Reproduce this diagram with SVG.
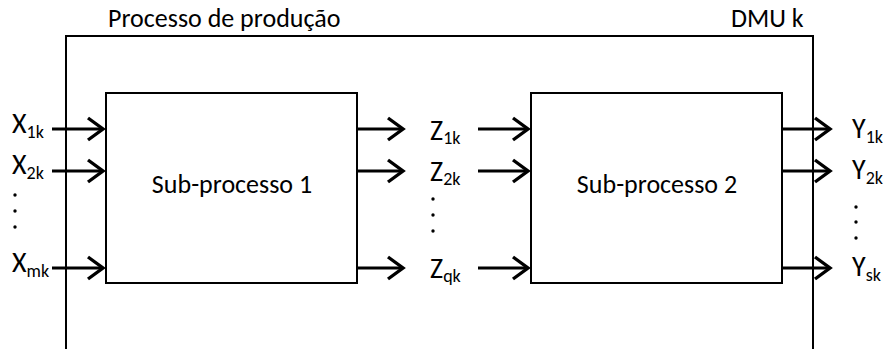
<svg xmlns="http://www.w3.org/2000/svg" width="883" height="349" viewBox="0 0 883 349">
  <style>
    .frame { fill: none; stroke: #000; stroke-width: 2; }
    .box { fill: #fff; stroke: #000; stroke-width: 2; }
    .flow { stroke: #000; stroke-width: 3.2; fill: none; }
    text { font-family: "Carlito", "Open Sans", "Liberation Sans", sans-serif; fill: #000; }
    .lbl { font-size: 26px; }
    .var { font-size: 28px; }
    .sub { font-size: 18px; }
  </style>
  <defs>
    <marker id="chev" viewBox="-3 -3 22 28" refX="15" refY="11" markerWidth="22" markerHeight="28" markerUnits="userSpaceOnUse" orient="auto">
      <polyline points="0,0 15,11 0,22" fill="none" stroke="#000" stroke-width="3.4"/>
    </marker>
  </defs>

  <!-- DMU frame (open at bottom) -->
  <g id="dmu">
    <polyline class="frame" points="66,349 66,36 813,36 813,349"/>
    <text class="lbl" x="108" y="27">Processo de produção</text>
    <text class="lbl" x="731" y="27">DMU k</text>
  </g>

  <g id="sub1">
    <rect class="box" x="106" y="93" width="251" height="190"/>
    <text class="lbl" x="232" y="193" text-anchor="middle">Sub-processo 1</text>
  </g>

  <g id="sub2">
    <rect class="box" x="531" y="93" width="251" height="190"/>
    <text class="lbl" x="657" y="193" text-anchor="middle">Sub-processo 2</text>
  </g>

  <!-- variable labels -->
  <g id="inputs">
    <text class="var" x="12" y="133">X<tspan class="sub" dy="5">1k</tspan></text>
    <text class="var" x="12" y="174">X<tspan class="sub" dy="5">2k</tspan></text>
    <text class="var" x="12" y="272">X<tspan class="sub" dy="5">mk</tspan></text>
    <circle cx="15" cy="195" r="1.7"/><circle cx="15" cy="211" r="1.7"/><circle cx="15" cy="227" r="1.7"/>
  </g>
  <g id="intermediates">
    <text class="var" x="430" y="140">Z<tspan class="sub" dy="4">1k</tspan></text>
    <text class="var" x="430" y="181">Z<tspan class="sub" dy="4">2k</tspan></text>
    <text class="var" x="430" y="278">Z<tspan class="sub" dy="4">qk</tspan></text>
    <circle cx="433" cy="199" r="1.7"/><circle cx="433" cy="215" r="1.7"/><circle cx="433" cy="231" r="1.7"/>
  </g>
  <g id="outputs">
    <text class="var" x="852" y="138">Y<tspan class="sub" dy="5">1k</tspan></text>
    <text class="var" x="852" y="179">Y<tspan class="sub" dy="5">2k</tspan></text>
    <text class="var" x="852" y="276">Y<tspan class="sub" dy="5">sk</tspan></text>
    <circle cx="856" cy="207" r="1.7"/><circle cx="856" cy="222" r="1.7"/><circle cx="856" cy="238" r="1.7"/>
  </g>

  <!-- connectors -->
  <g id="connectors">
    <line class="flow" x1="52" y1="129" x2="103" y2="129" marker-end="url(#chev)"/>
    <line class="flow" x1="52" y1="171" x2="103" y2="171" marker-end="url(#chev)"/>
    <line class="flow" x1="52" y1="268" x2="103" y2="268" marker-end="url(#chev)"/>

    <line class="flow" x1="357" y1="129" x2="403" y2="129" marker-end="url(#chev)"/>
    <line class="flow" x1="357" y1="171" x2="403" y2="171" marker-end="url(#chev)"/>
    <line class="flow" x1="357" y1="268" x2="403" y2="268" marker-end="url(#chev)"/>

    <line class="flow" x1="478" y1="129" x2="528" y2="129" marker-end="url(#chev)"/>
    <line class="flow" x1="478" y1="171" x2="528" y2="171" marker-end="url(#chev)"/>
    <line class="flow" x1="478" y1="268" x2="528" y2="268" marker-end="url(#chev)"/>

    <line class="flow" x1="782" y1="129" x2="830" y2="129" marker-end="url(#chev)"/>
    <line class="flow" x1="782" y1="171" x2="830" y2="171" marker-end="url(#chev)"/>
    <line class="flow" x1="782" y1="268" x2="830" y2="268" marker-end="url(#chev)"/>
  </g>
</svg>
